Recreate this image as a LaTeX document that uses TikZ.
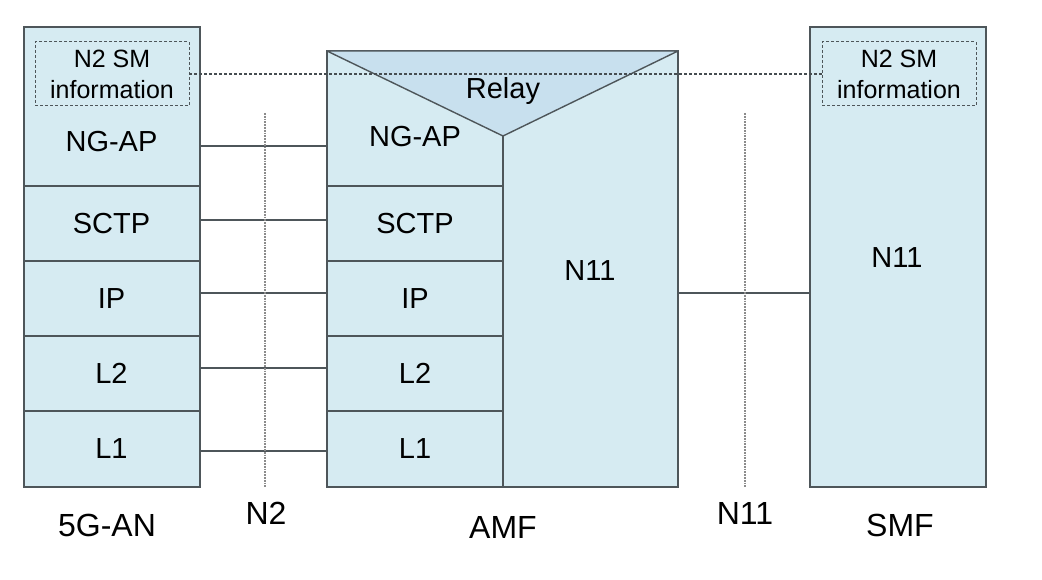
\documentclass[tikz,border=0pt]{standalone}
\usepackage{fontspec}
\setmainfont{Liberation Sans}
\usetikzlibrary{positioning}
\definecolor{boxblue}{RGB}{214,235,242}
\definecolor{relayblue}{RGB}{200,224,238}
\definecolor{linegray}{RGB}{78,86,90}
\definecolor{refgray}{RGB}{140,140,140}
\newcommand\layerfont{\fontsize{29}{34}\selectfont}
\newcommand\infofont{\fontsize{25}{31}\selectfont}
\newcommand\capfont{\fontsize{32}{36}\selectfont}
\tikzset{
    stackbox/.style = {rectangle, draw=linegray, fill=boxblue, line width=2pt, inner sep=0pt, outer sep=0pt, minimum width=176pt},
    layer/.style = {rectangle, draw=linegray, fill=boxblue, line width=2pt, inner sep=0pt, outer sep=0pt, minimum width=176pt, minimum height=75pt, font=\layerfont},
    layertext/.style = {font=\layerfont, inner sep=0pt},
    infobox/.style = {rectangle, draw=linegray, densely dashed, line width=1pt, minimum width=154pt, minimum height=64pt, inner sep=0pt, outer sep=0pt, align=center, font=\infofont},
    relay/.style = {draw=linegray, fill=relayblue, line width=1.4pt, line join=round},
    link/.style = {draw=linegray, line width=1.2pt},
    infolink/.style = {draw=linegray!90!black, densely dashed, line width=1.1pt},
    refline/.style = {draw=refgray, densely dotted, line width=1.8pt},
    caption/.style = {font=\capfont, inner sep=0pt}
}
\begin{document}
\begin{tikzpicture}[x=1pt, y=-1pt]
  \useasboundingbox (0,0) rectangle (1042,580);

  % 5G-AN stack
  \node[stackbox, minimum height=460pt] (an) at (111.5,257) {};
  \node[layertext] (anNGAP) at (111.5,142) {NG-AP};
  \node[infobox] (anInfo) at (112,74) {N2 SM\\information};
  \node[layer] (anSCTP) at (111.5,223.5) {SCTP};
  \node[layer] (anIP)   at (111.5,298.5) {IP};
  \node[layer] (anL2)   at (111.5,373.5) {L2};
  \node[layer, minimum height=76pt] (anL1) at (111.5,449) {L1};

  % AMF stack
  \node[stackbox, minimum width=351pt, minimum height=436pt] (amf) at (502.5,269) {};
  \coordinate (apex) at (503,136);
  \node[layer] (amfSCTP) at (415,223.5) {SCTP};
  \node[layer] (amfIP)   at (415,298.5) {IP};
  \node[layer] (amfL2)   at (415,373.5) {L2};
  \node[layer, minimum height=76pt] (amfL1) at (415,449) {L1};
  \draw[relay] (amf.north west) -- (apex) -- (amf.north east) -- cycle;
  \draw[linegray, line width=2pt] (apex) -- (apex |- amf.south);
  \node[layertext] (relayText) at (503,91) {Relay};
  \node[layertext] (amfNGAP) at (415,137) {NG-AP};
  \node[layertext] (amfN11) at (590,271) {N11};

  % SMF stack
  \node[stackbox, minimum height=460pt] (smf) at (898,257) {};
  \node[infobox] (smfInfo) at (899,74) {N2 SM\\information};
  \node[layertext] (smfN11) at (897,258) {N11};

  % peer links
  \draw[infolink] (anInfo.east) -- (smfInfo.west);
  \foreach \y in {146,220,293,368,451}
    \draw[link] (an.east |- 0,\y) -- (amf.west |- 0,\y);
  \draw[link] (amf.east |- 0,293) -- (smf.west |- 0,293);

  % reference points
  \coordinate (n2top) at (265,113);
  \coordinate (n11top) at (745,113);
  \draw[refline] (n2top) -- (n2top |- an.south);
  \draw[refline] (n11top) -- (n11top |- an.south);

  % captions
  \node[caption] (anCap)  at (107,525) {5G-AN};
  \node[caption] (n2Cap)  at (266,513) {N2};
  \node[caption] (amfCap) at (503,527) {AMF};
  \node[caption] (n11Cap) at (745,513) {N11};
  \node[caption] (smfCap) at (900,525) {SMF};
\end{tikzpicture}
\end{document}
